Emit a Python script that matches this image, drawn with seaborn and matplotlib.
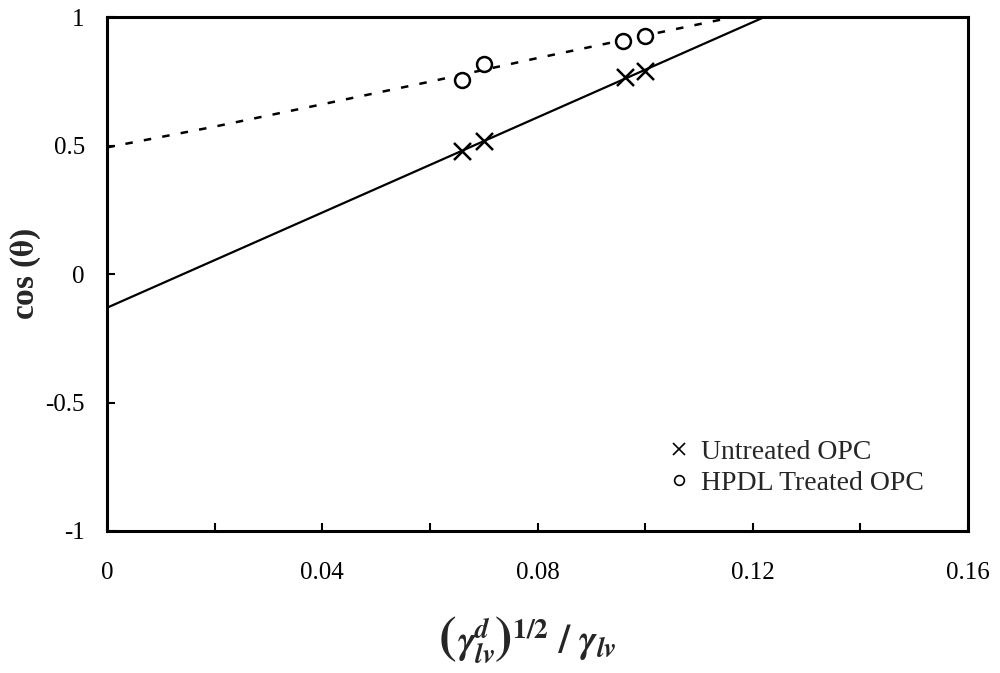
import numpy as np
import pandas as pd
import seaborn as sns
import matplotlib.pyplot as plt
from matplotlib.lines import Line2D
from matplotlib.offsetbox import TextArea, HPacker, AnnotationBbox

# Datos
x_untreated = [0.066, 0.070, 0.0963, 0.100]
y_untreated = [0.480, 0.519, 0.768, 0.791]
x_treated = [0.066, 0.070, 0.0959, 0.100]
y_treated = [0.755, 0.819, 0.908, 0.928]
# curva punteada
x_curve = [0.0, 0.02, 0.04, 0.06, 0.08, 0.10, 0.116]
y_curve = [0.494, 0.575, 0.662, 0.750, 0.842, 0.930, 1.0]

x_ticks = [0, 0.04, 0.08, 0.12, 0.16]
x_ticklabels = ["0", "0.04", "0.08", "0.12", "0.16"]
y_ticks = [-1, -0.5, 0, 0.5, 1]
y_ticklabels = ["-1", "-0.5", "0", "0.5", "1"]

df_u = pd.DataFrame({"x": x_untreated, "y": y_untreated})
df_t = pd.DataFrame({"x": x_treated, "y": y_treated})
df_c = pd.DataFrame({"x": x_curve, "y": y_curve})

sns.set_style("ticks")
plt.rcParams["font.family"] = ["Liberation Serif", "DejaVu Serif"]
plt.rcParams["mathtext.fontset"] = "stix"

fig, ax = plt.subplots(figsize=(10, 6.73), dpi=100)
fig.subplots_adjust(left=0.107, right=0.968, top=0.974, bottom=0.211)

ax.set_xlim(0, 0.16)
ax.set_ylim(-1, 1)

# recta de regresion (sin tratar)
sns.regplot(data=df_u, x="x", y="y", scatter=False, ci=None, truncate=False,
            color="black", line_kws={"linewidth": 1.6}, ax=ax)
# curva punteada (tratado)
sns.lineplot(data=df_c, x="x", y="y", color="black", linewidth=1.8,
             linestyle=(0, (3, 4.5)), ax=ax)

sns.scatterplot(data=df_u, x="x", y="y", marker="x", s=150, color="black",
                linewidth=1.8, ax=ax, zorder=5)
sns.scatterplot(data=df_t, x="x", y="y", marker="o", s=115, facecolor="white",
                edgecolor="black", linewidth=1.8, ax=ax, zorder=5)

ax.set_xticks(x_ticks)
ax.set_xticklabels(x_ticklabels)
ax.set_xticks(np.arange(0.02, 0.16, 0.04), minor=True)
ax.set_yticks(y_ticks)
ax.set_yticklabels(y_ticklabels)
ax.tick_params(axis="both", which="both", direction="in", length=6, width=1.5,
               labelsize=18, colors="black")
ax.tick_params(axis="x", which="major", pad=22)
ax.tick_params(axis="y", which="major", pad=16)

for sp in ax.spines.values():
    sp.set_linewidth(2.2)
    sp.set_color("black")

ax.set_ylabel(r"cos ($\mathbf{\theta}$)", fontsize=24, fontweight="bold")
ax.yaxis.set_label_coords(-0.074, 0.5)
ax.set_xlabel("")

# etiqueta del eje x con parentesis grandes
paren = dict(fontsize=38, fontfamily="STIXGeneral", fontweight="bold")
mtxt = dict(fontsize=28)
partes = [
    TextArea("(", textprops=paren),
    TextArea(r"$\mathbfit{\gamma}_{\mathbfit{lv}}^{\mathbfit{d}}$", textprops=mtxt),
    TextArea(")", textprops=paren),
    TextArea(r"$^{\mathbf{1/2}}\ \mathbf{/}\ \mathbfit{\gamma}_{\mathbfit{lv}}$", textprops=mtxt),
]
etiqueta = HPacker(children=partes, align="baseline", pad=0, sep=0)
ab = AnnotationBbox(etiqueta, (0.528, 0.047), xycoords="figure fraction",
                    frameon=False, box_alignment=(0.5, 0.5))
fig.add_artist(ab)

handles = [Line2D([], [], marker="x", linestyle="none", color="black", markersize=8, markeredgewidth=1.2),
           Line2D([], [], marker="o", linestyle="none", color="black", markerfacecolor="white",
                  markersize=7, markeredgewidth=1.2)]
ax.legend(handles, ["Untreated OPC", "HPDL Treated OPC"], loc="lower right",
          bbox_to_anchor=(0.978, 0.02), frameon=False, fontsize=20,
          handlelength=0.6, handletextpad=0.5, labelspacing=0.2)

plt.savefig("out.png", dpi=100)
